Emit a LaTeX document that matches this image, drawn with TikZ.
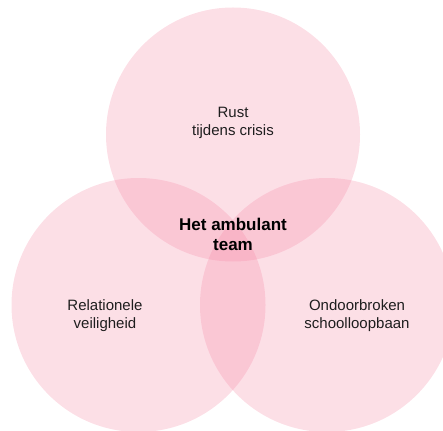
\documentclass[tikz,border=0pt]{standalone}
\usepackage{fontspec}
\setmainfont{Liberation Sans}
\definecolor{vennpink}{RGB}{245,130,160}
\definecolor{txt}{RGB}{30,30,30}
\begin{document}
\begin{tikzpicture}[x=1pt,y=-1pt,
  venn/.style={fill=vennpink,fill opacity=0.26,draw=none},
  lbl/.style={align=center,inner sep=0pt,text=txt,font=\fontsize{15}{18}\selectfont},
  core/.style={align=center,inner sep=0pt,text=black,font=\fontsize{17}{20}\selectfont\bfseries}]
\useasboundingbox (0,0) rectangle (443,430);
\begin{scope}
\clip (0,0) rectangle (443,430);
\fill[venn] (233,134.5) circle[radius=127];
\fill[venn] (138.5,305) circle[radius=127];
\fill[venn] (327,305) circle[radius=127];
\end{scope}
\node[lbl] (rust) at (233,122.5) {Rust\\tijdens crisis};
\node[lbl] (rel) at (105,316) {Relationele\\veiligheid};
\node[lbl] (ond) at (357,316) {Ondoorbroken\\schoolloopbaan};
\node[core] (team) at (233,234.5) {Het ambulant\\team};
\end{tikzpicture}
\end{document}
